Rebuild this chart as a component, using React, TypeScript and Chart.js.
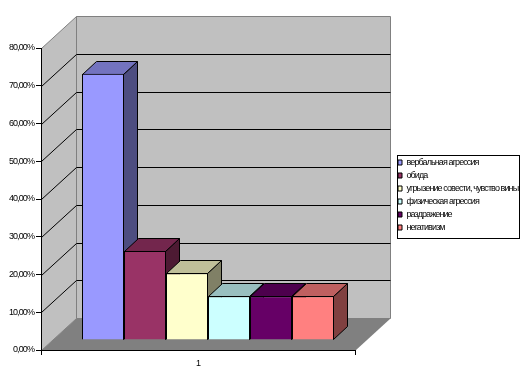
import React, { useEffect, useRef } from "react";
import { Chart, registerables } from "chart.js";

Chart.register(...registerables);

const categories = ["1"];
const seriesNames = [
  "вербальная агрессия",
  "обида",
  "угрызение совести, чувство вины",
  "физическая агрессия",
  "раздражение",
  "негативизм",
];
const seriesValues = [70.5, 23.6, 17.7, 11.6, 11.6, 11.6];
const frontColors = ["#9999FF", "#993366", "#FFFFCC", "#CCFFFF", "#660066", "#FF8080"];
const topColors = ["#7373BF", "#73264D", "#BFBF99", "#99BFBF", "#4D004D", "#BF6060"];
const sideColors = ["#4D4D80", "#4D1A33", "#808066", "#668080", "#330033", "#804040"];

const WALL_DX = 35;
const WALL_DY = -32;
const BAR_DX = 10;
const BAR_DY = -10;
const DEPTH_DX = 14;
const DEPTH_DY = -13;
const FONT = "'Liberation Sans', sans-serif";

const poly = (ctx: CanvasRenderingContext2D, pts: number[][], fill: string, stroke?: string) => {
  ctx.beginPath();
  pts.forEach((p, i) => (i ? ctx.lineTo(p[0], p[1]) : ctx.moveTo(p[0], p[1])));
  ctx.closePath();
  ctx.fillStyle = fill;
  ctx.fill();
  if (stroke) {
    ctx.strokeStyle = stroke;
    ctx.lineWidth = 1;
    ctx.stroke();
  }
};

const box3d = {
  id: "box3d",
  beforeDraw(chart: any) {
    const { ctx, chartArea: a, scales } = chart;
    const l = a.left, r = a.right, t = a.top, b = a.bottom;
    (ctx as any).letterSpacing = "-0.9px";
    ctx.save();
    ctx.translate(0.5, 0.5);
    poly(ctx, [[l, b], [l + WALL_DX, b + WALL_DY], [l + WALL_DX, t + WALL_DY], [l, t]], "#C0C0C0", "#808080");
    poly(ctx, [[l + WALL_DX, t + WALL_DY], [r + WALL_DX, t + WALL_DY], [r + WALL_DX, b + WALL_DY], [l + WALL_DX, b + WALL_DY]], "#C0C0C0", "#808080");
    poly(ctx, [[l, b], [l + WALL_DX, b + WALL_DY], [r + WALL_DX, b + WALL_DY], [r, b]], "#808080");
    ctx.strokeStyle = "#000";
    ctx.lineWidth = 1;
    scales.y.ticks.forEach((tk: any) => {
      if (tk.value <= 0 || tk.value >= 80) return;
      const y = Math.round(scales.y.getPixelForValue(tk.value));
      ctx.beginPath();
      ctx.moveTo(l, y);
      ctx.lineTo(l + WALL_DX, y + WALL_DY);
      ctx.lineTo(r + WALL_DX, y + WALL_DY);
      ctx.stroke();
    });
    ctx.restore();
  },
  beforeDatasetsDraw(chart: any) {
    const { ctx } = chart;
    ctx.save();
    ctx.translate(0.5, 0.5);
    chart.data.datasets.forEach((_: any, i: number) => {
      const el = chart.getDatasetMeta(i).data[0];
      const half = el.width / 2;
      const x0 = Math.round(el.x - half + BAR_DX), x1 = Math.round(el.x + half + BAR_DX) - 1;
      const y0 = Math.round(el.y + BAR_DY), yb = Math.round(el.base + BAR_DY) - 1;
      poly(ctx, [[x1, y0], [x1 + DEPTH_DX, y0 + DEPTH_DY], [x1 + DEPTH_DX, yb + DEPTH_DY], [x1, yb]], sideColors[i], "#000");
      poly(ctx, [[x0, y0], [x0 + DEPTH_DX, y0 + DEPTH_DY], [x1 + DEPTH_DX, y0 + DEPTH_DY], [x1, y0]], topColors[i], "#000");
    });
    ctx.restore();
  },
  beforeDatasetDraw(chart: any) {
    chart.ctx.save();
    chart.ctx.translate(BAR_DX, BAR_DY);
  },
  afterDatasetDraw(chart: any) {
    chart.ctx.restore();
  },
  afterDraw(chart: any) {
    const { ctx } = chart;
    ctx.save();
    ctx.strokeStyle = "#000";
    ctx.lineWidth = 1;
    ctx.strokeRect(397.5, 155.5, 122, 83);
    ctx.restore();
  },
};

const legendPlace = {
  id: "legendPlace",
  afterLayout(chart: any) {
    const lg = chart.legend;
    lg.left = 394;
    lg.right = 524;
    lg.top = 154;
    lg.bottom = 300;
  },
};

export default function App() {
  const ref = useRef<HTMLCanvasElement>(null);
  useEffect(() => {
    const chart = new Chart(ref.current!, {
      type: "bar",
      data: {
        labels: categories,
        datasets: seriesNames.map((name, i) => ({
          label: name,
          data: [seriesValues[i]],
          backgroundColor: frontColors[i],
          borderColor: "#000",
          borderWidth: 1,
          clip: false as any,
        })),
      },
      options: {
        animation: false,
        responsive: false,
        events: [],
        layout: { padding: { top: 48, left: 0, right: 169, bottom: 0 } },
        datasets: { bar: { categoryPercentage: 0.8025, barPercentage: 1 } },
        scales: {
          x: {
            border: { color: "#000" },
            grid: { drawOnChartArea: false, color: "#000", tickLength: 5 },
            ticks: { color: "#000", font: { family: FONT, size: 9 } },
            afterFit: (s: any) => { s.height = 35; },
          },
          y: {
            min: 0,
            max: 80,
            border: { color: "#000" },
            grid: { drawOnChartArea: false, color: "#000", tickLength: 5 },
            ticks: {
              stepSize: 10,
              padding: 2,
              color: "#000",
              font: { family: FONT, size: 9 },
              callback: (v: any) => Number(v).toFixed(2).replace(".", ",") + "%",
            },
            afterFit: (s: any) => { s.width = 41; },
          },
        },
        plugins: {
          title: { display: false },
          tooltip: { enabled: false },
          legend: {
            display: true,
            position: "chartArea" as any,
            align: "start",
            labels: {
              boxWidth: 4,
              boxHeight: 5,
              padding: 4,
              color: "#000",
              font: { family: FONT, size: 9 },
            },
          },
        },
      },
      plugins: [box3d, legendPlace],
    });
    return () => chart.destroy();
  }, []);
  return (
    <div style={{ position: "fixed", left: 0, top: 0, background: "#fff" }}>
      <canvas ref={ref} width={524} height={385} style={{ display: "block" }} />
    </div>
  );
}
